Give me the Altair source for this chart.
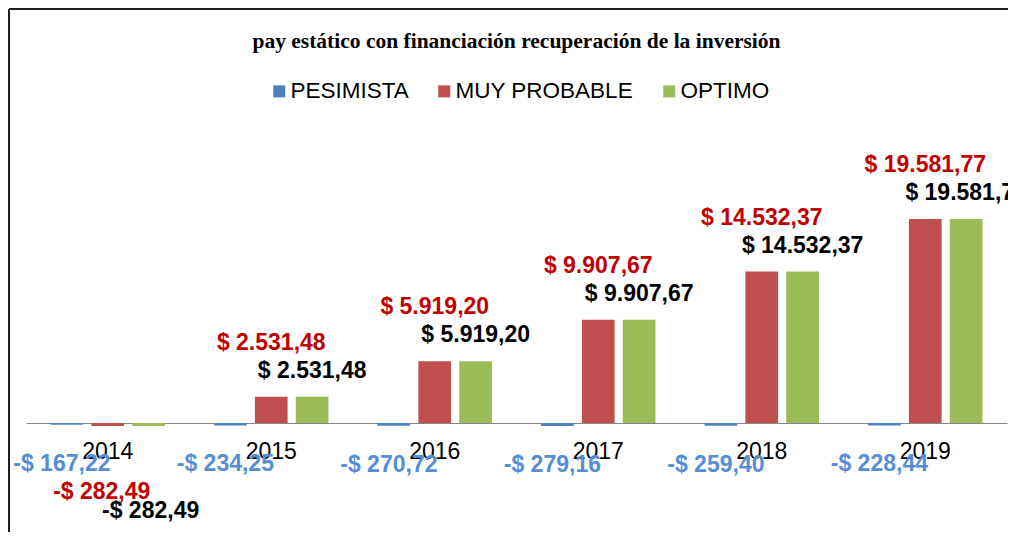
import altair as alt
import pandas as pd

years = ["2014", "2015", "2016", "2017", "2018", "2019"]
series = ["PESIMISTA", "MUY PROBABLE", "OPTIMO"]
pesimista = [-167.22, -234.25, -270.72, -279.16, -259.40, -228.44]
muy_probable = [-282.49, 2531.48, 5919.20, 9907.67, 14532.37, 19581.77]
optimo = [-282.49, 2531.48, 5919.20, 9907.67, 14532.37, 19581.77]
bar_colors = ["#4F81BD", "#C0504D", "#9BBB59"]
label_colors = ["#558ED5", "#C00000", "#000000"]
title_text = "pay estático con financiación recuperación de la inversión"


def fmt(v):
    s = f"{abs(v):,.2f}".replace(",", "X").replace(".", ",").replace("X", ".")
    return ("-$ " if v < 0 else "$ ") + s


rows = []
for s, vals in zip(series, [pesimista, muy_probable, optimo]):
    for yr, v in zip(years, vals):
        rows.append({"year": yr, "serie": s, "valor": v, "etiqueta": fmt(v)})
df = pd.DataFrame(rows)

W, H = 981, 303
YMAX = 29084

x_enc = alt.X(
    "year:N",
    sort=years,
    scale=alt.Scale(paddingInner=0.3, paddingOuter=0.15),
    axis=alt.Axis(
        title=None, labelAngle=0, labelFont="Liberation Sans", labelFontSize=23,
        labelColor="#000000", labelPadding=17, domainColor="#868686",
        domainWidth=1, ticks=False, grid=False,
    ),
)
xo_enc = alt.XOffset(
    "serie:N", sort=series,
    scale=alt.Scale(domain=series, paddingInner=0.2, paddingOuter=0),
)
y_enc = alt.Y("valor:Q", scale=alt.Scale(domain=[0, YMAX], nice=False, zero=False), axis=None)

base = alt.Chart(df)

bars = base.mark_bar().encode(
    x=x_enc, xOffset=xo_enc, y=y_enc,
    color=alt.Color(
        "serie:N",
        scale=alt.Scale(domain=series, range=bar_colors),
        legend=alt.Legend(
            title=None, orient="none", legendX=242, legendY=-40,
            direction="horizontal", symbolType="square", symbolSize=144,
            symbolStrokeWidth=0, labelFont="Liberation Sans", labelFontSize=22.5,
            labelColor="#000000", labelOffset=0, columnPadding=24, padding=0,
            labelLimit=0,
        ),
    ),
)


def labels(serie, color, positive, dx, dy):
    cond = "datum.valor >= 0" if positive else "datum.valor < 0"
    return base.transform_filter(
        f"datum.serie == '{serie}' && {cond}"
    ).mark_text(
        font="Liberation Sans", fontSize=23, fontWeight="bold", color=color,
        baseline="middle", align="center", dx=dx, dy=dy,
    ).encode(x=x_enc, xOffset=xo_enc, y=y_enc, text="etiqueta:N")


layers = [
    bars,
    labels("PESIMISTA", label_colors[0], False, -5, 39),
    labels("MUY PROBABLE", label_colors[1], True, 0, -54),
    labels("MUY PROBABLE", label_colors[1], False, -6, 66),
    labels("OPTIMO", label_colors[2], True, 0, -26),
    labels("OPTIMO", label_colors[2], False, 2, 85),
]

frame_df = pd.DataFrame({"k": [0]})
top_line = alt.Chart(frame_df).mark_rule(color="#1e1e1e", strokeWidth=2).encode(
    x=alt.value(-17), x2=alt.value(990), y=alt.value(-111)
)
left_line = alt.Chart(frame_df).mark_rule(color="#1e1e1e", strokeWidth=2).encode(
    x=alt.value(-17), y=alt.value(-111), y2=alt.value(412)
)

chart = alt.layer(*layers, top_line, left_line).properties(
    width=W, height=H,
    autosize=alt.AutoSizeParams(type="none"),
    padding={"left": 18, "top": 112, "right": 1, "bottom": 109},
    title=alt.TitleParams(
        text=title_text, font="Liberation Serif", fontSize=21.5, fontWeight="bold",
        color="#000000", anchor="middle", offset=-44,
    ),
).configure_view(stroke=None)

chart.save("out.html", embed_options={"renderer": "svg", "actions": False})
